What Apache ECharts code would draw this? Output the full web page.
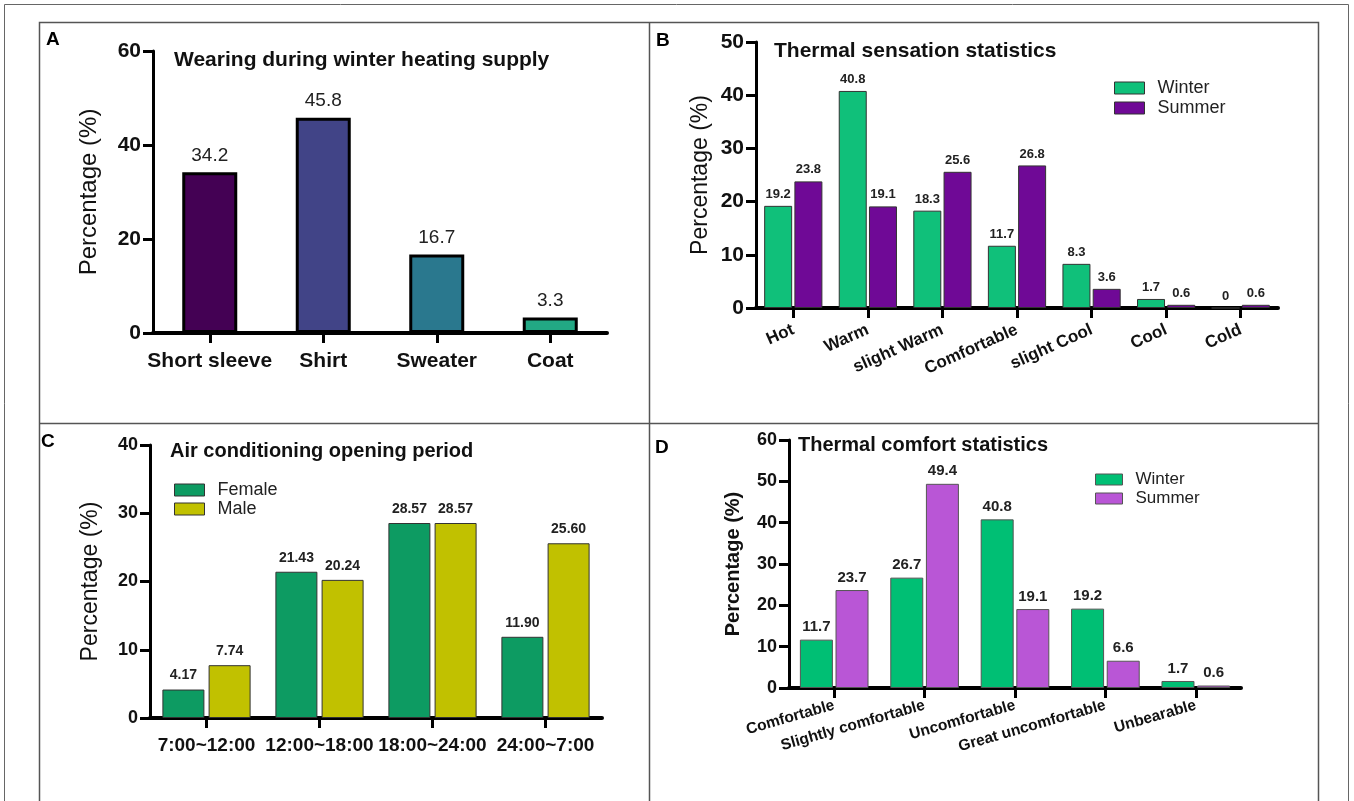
<!DOCTYPE html>
<html>
<head>
<meta charset="utf-8">
<script src="https://cdn.jsdelivr.net/npm/echarts@6/dist/echarts.min.js"></script>
<style>
  html, body { margin: 0; padding: 0; background: #fff; }
  #chart { width: 1354px; height: 801px; }
</style>
</head>
<body>
<div id="chart"></div>
<script>
// panel A
const wearCats = ['Short sleeve', 'Shirt', 'Sweater', 'Coat'];
const wearVals = [34.2, 45.8, 16.7, 3.3];
const wearColors = ['#440154', '#414487', '#2a788e', '#22a884'];

// panel B
const sensCats = ['Hot', 'Warm', 'slight Warm', 'Comfortable', 'slight Cool', 'Cool', 'Cold'];
const sensWinter = [19.2, 40.8, 18.3, 11.7, 8.3, 1.7, 0];
const sensSummer = [23.8, 19.1, 25.6, 26.8, 3.6, 0.6, 0.6];

// panel C
const acCats = ['7:00~12:00', '12:00~18:00', '18:00~24:00', '24:00~7:00'];
const acFemale = [4.17, 21.43, 28.57, 11.90];
const acMale = [7.74, 20.24, 28.57, 25.60];

// panel D
const comfCats = ['Comfortable', 'Slightly comfortable', 'Uncomfortable', 'Great uncomfortable', 'Unbearable'];
const comfWinter = [11.7, 26.7, 40.8, 19.2, 1.7];
const comfSummer = [23.7, 49.4, 19.1, 6.6, 0.6];

const FONT = 'Liberation Sans';

function yAxis(idx, max, interval, nameSize, nameBold, nameGap, labelSize) {
  return {
    type: 'value', gridIndex: idx, min: 0, max: max, interval: interval,
    name: 'Percentage (%)', nameLocation: 'middle', nameGap: nameGap,
    nameTextStyle: { fontFamily: FONT, fontSize: nameSize, fontWeight: nameBold ? 'bold' : 'normal', color: '#111' },
    axisLine: { show: true, lineStyle: { color: '#000', width: 3 } },
    axisTick: { show: true, length: 10, lineStyle: { color: '#000', width: 3 } },
    axisLabel: { fontFamily: FONT, fontSize: labelSize, fontWeight: 'bold', color: '#111', margin: 12 },
    splitLine: { show: false }
  };
}

function xAxis(idx, cats, labelSize, rotate, margin, weight) {
  return {
    type: 'category', gridIndex: idx, data: cats,
    axisLine: { show: true, lineStyle: { color: '#000', width: 4 } },
    axisTick: { show: true, alignWithLabel: true, length: 10, lineStyle: { color: '#000', width: 3 } },
    axisLabel: { interval: 0, rotate: rotate, margin: margin, fontFamily: FONT, fontSize: labelSize,
                 fontWeight: weight, color: '#111' }
  };
}

function valLabel(size, bold, dist) {
  return { show: true, position: 'top', distance: dist, fontFamily: FONT, fontSize: size,
           fontWeight: bold ? 'bold' : 'normal', color: '#222' };
}

function legendText(size) {
  return { fontFamily: FONT, fontSize: size, color: '#222', padding: [0, 0, 0, 8] };
}

const chart = echarts.init(document.getElementById('chart'));

const option = {
  animation: false,
  backgroundColor: '#fff',
  title: [
    { text: 'Wearing during winter heating supply', left: 169, top: 45, textStyle: { fontFamily: FONT, fontSize: 21, fontWeight: 'bold', color: '#111' } },
    { text: 'Thermal sensation statistics', left: 769, top: 36, textStyle: { fontFamily: FONT, fontSize: 21, fontWeight: 'bold', color: '#111' } },
    { text: 'Air conditioning opening period', left: 165, top: 436, textStyle: { fontFamily: FONT, fontSize: 20, fontWeight: 'bold', color: '#111' } },
    { text: 'Thermal comfort statistics', left: 793, top: 430, textStyle: { fontFamily: FONT, fontSize: 20, fontWeight: 'bold', color: '#111' } }
  ],
  legend: [
    { data: ['Winter', 'Summer'], orient: 'vertical', left: 1109, top: 74, itemWidth: 30, itemHeight: 12, itemGap: 2,
      icon: 'rect', itemStyle: { borderColor: '#333', borderWidth: 1 }, textStyle: legendText(18) },
    { data: ['Female', 'Male'], orient: 'vertical', left: 169, top: 476, itemWidth: 30, itemHeight: 12, itemGap: 1,
      icon: 'rect', itemStyle: { borderColor: '#333', borderWidth: 1 }, textStyle: legendText(18) },
    { data: ['Winter ', 'Summer '], orient: 'vertical', left: 1090, top: 466, itemWidth: 27, itemHeight: 11, itemGap: 2,
      icon: 'rect', itemStyle: { borderColor: '#555', borderWidth: 1 }, textStyle: legendText(17) }
  ],
  grid: [
    { left: 153, top: 51, width: 454, height: 282 },
    { left: 756, top: 42, width: 522, height: 266 },
    { left: 150, top: 445, width: 452, height: 273 },
    { left: 789, top: 440, width: 452, height: 248 }
  ],
  xAxis: [
    xAxis(0, wearCats, 21, 0, 18, 'bold'),
    xAxis(1, sensCats, 17, 24, 21, 'bold'),
    xAxis(2, acCats, 19, 0, 18, 'bold'),
    xAxis(3, comfCats, 15.5, 16, 17, 'bold')
  ],
  yAxis: [
    yAxis(0, 60, 20, 24, false, 52, 21),
    yAxis(1, 50, 10, 23, false, 44, 21),
    yAxis(2, 40, 10, 23, false, 48, 18),
    yAxis(3, 60, 10, 20, true, 46, 18)
  ],
  series: [
    { type: 'bar', xAxisIndex: 0, yAxisIndex: 0, barWidth: 55,
      data: wearVals.map((v, i) => ({ value: v, itemStyle: { color: wearColors[i] } })),
      itemStyle: { borderColor: '#000', borderWidth: 3 },
      label: valLabel(19, false, 7) },

    { name: 'Winter', type: 'bar', xAxisIndex: 1, yAxisIndex: 1, barWidth: 28, barGap: '8%', data: sensWinter,
      itemStyle: { color: '#10c07a', borderColor: '#333', borderWidth: 1 }, label: valLabel(13, true, 5) },
    { name: 'Summer', type: 'bar', xAxisIndex: 1, yAxisIndex: 1, barWidth: 28, barGap: '8%', data: sensSummer,
      itemStyle: { color: '#6f0996', borderColor: '#333', borderWidth: 1 }, label: valLabel(13, true, 5) },

    { name: 'Female', type: 'bar', xAxisIndex: 2, yAxisIndex: 2, barWidth: 42, barGap: '10%', data: acFemale,
      itemStyle: { color: '#0d9b62', borderColor: '#333', borderWidth: 1 },
      label: Object.assign(valLabel(14, true, 7), { formatter: p => p.value.toFixed(2) }) },
    { name: 'Male', type: 'bar', xAxisIndex: 2, yAxisIndex: 2, barWidth: 42, barGap: '10%', data: acMale,
      itemStyle: { color: '#c1c100', borderColor: '#333', borderWidth: 1 },
      label: Object.assign(valLabel(14, true, 7), { formatter: p => p.value.toFixed(2) }) },

    { name: 'Winter ', type: 'bar', xAxisIndex: 3, yAxisIndex: 3, barWidth: 33, barGap: '8%', data: comfWinter,
      itemStyle: { color: '#00bf74', borderColor: '#555', borderWidth: 1 }, label: valLabel(15, true, 5) },
    { name: 'Summer ', type: 'bar', xAxisIndex: 3, yAxisIndex: 3, barWidth: 33, barGap: '8%', data: comfSummer,
      itemStyle: { color: '#b956d6', borderColor: '#555', borderWidth: 1 }, label: valLabel(15, true, 5) }
  ],
  graphic: [
    { type: 'rect', shape: { x: 4.5, y: 4.5, width: 1344, height: 810 }, style: { fill: 'none', stroke: '#666', lineWidth: 1 }, silent: true },
    { type: 'rect', shape: { x: 39.5, y: 22.5, width: 1279, height: 790 }, style: { fill: 'none', stroke: '#555', lineWidth: 1.5 }, silent: true },
    { type: 'line', shape: { x1: 649.5, y1: 22, x2: 649.5, y2: 801 }, style: { stroke: '#555', lineWidth: 1.5 }, silent: true },
    { type: 'line', shape: { x1: 39, y1: 423.5, x2: 1318, y2: 423.5 }, style: { stroke: '#555', lineWidth: 1.5 }, silent: true },
    { type: 'text', left: 46, top: 30, style: { text: 'A', font: 'bold 19px "Liberation Sans"', fill: '#000' } },
    { type: 'text', left: 656, top: 31, style: { text: 'B', font: 'bold 19px "Liberation Sans"', fill: '#000' } },
    { type: 'text', left: 41, top: 432, style: { text: 'C', font: 'bold 19px "Liberation Sans"', fill: '#000' } },
    { type: 'text', left: 655, top: 438, style: { text: 'D', font: 'bold 19px "Liberation Sans"', fill: '#000' } }
  ]
};

chart.setOption(option);
</script>
</body>
</html>
